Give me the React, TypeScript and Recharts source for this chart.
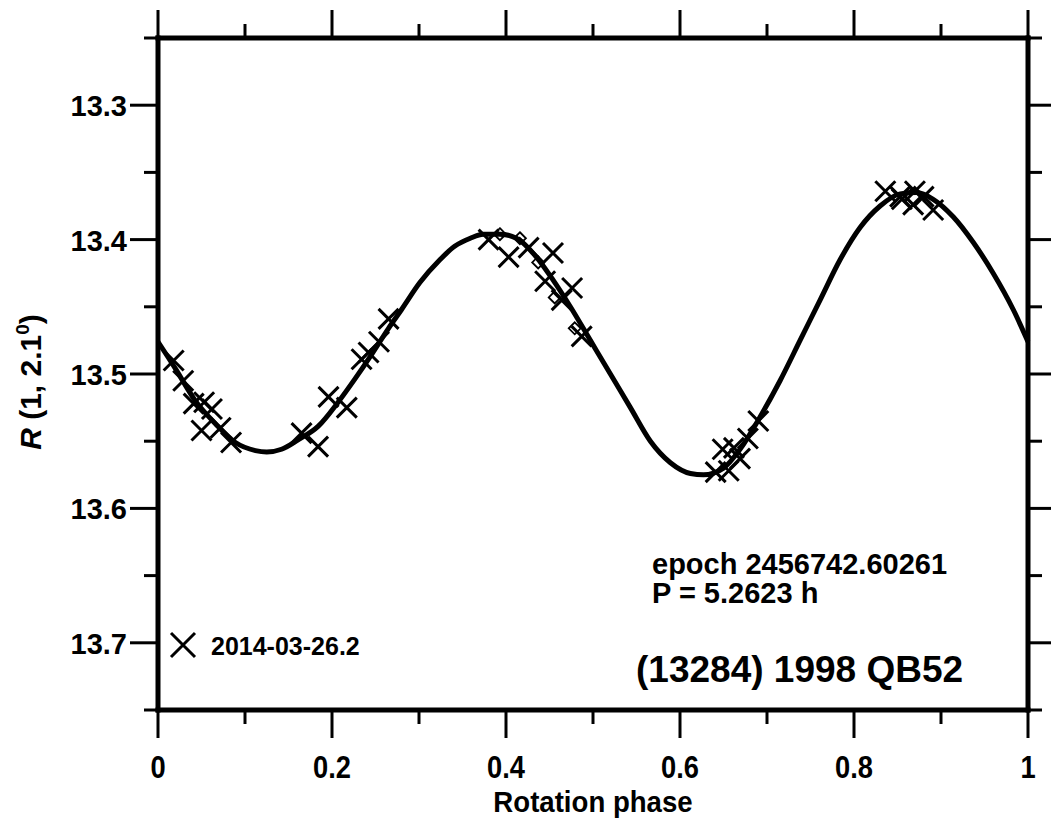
import React from 'react';
import { ComposedChart, Line, Scatter, XAxis, YAxis, Customized } from 'recharts';

// Fitted Fourier curve (phase, R magnitude)
const curvePhase = [
  0, 0.02, 0.043, 0.066, 0.089, 0.112, 0.125, 0.142, 0.161, 0.184, 0.207, 0.226, 0.246,
  0.265, 0.28, 0.301, 0.324, 0.341, 0.359, 0.374, 0.393, 0.412, 0.435, 0.454, 0.474,
  0.497, 0.52, 0.543, 0.566, 0.589, 0.612, 0.627, 0.65, 0.669, 0.692, 0.715, 0.738,
  0.761, 0.784, 0.807, 0.83, 0.853, 0.872, 0.891, 0.914, 0.937, 0.96, 0.983, 1,
];
const curveMag = [
  13.476, 13.496, 13.52, 13.537, 13.551, 13.557, 13.558, 13.556, 13.549, 13.539, 13.521,
  13.504, 13.485, 13.466, 13.452, 13.432, 13.415, 13.405, 13.399, 13.396, 13.396, 13.399,
  13.413, 13.43, 13.45, 13.475, 13.5, 13.525, 13.55, 13.566, 13.574, 13.575, 13.57,
  13.556, 13.532, 13.505, 13.475, 13.445, 13.415, 13.391, 13.375, 13.366, 13.365, 13.37,
  13.383, 13.402, 13.425, 13.452, 13.476,
];

// 2014-03-26.2 observations (crosses)
const crossPhase = [
  0.018, 0.029, 0.041, 0.053, 0.062, 0.05, 0.072, 0.084, 0.165, 0.184, 0.196, 0.217,
  0.234, 0.242, 0.254, 0.265, 0.38, 0.403, 0.426, 0.454, 0.445, 0.476, 0.464, 0.487,
  0.641, 0.656, 0.649, 0.669, 0.662, 0.678, 0.69, 0.836, 0.853, 0.87, 0.88, 0.868,
  0.891, 0.855,
];
const crossMag = [
  13.49, 13.505, 13.522, 13.521, 13.526, 13.542, 13.54, 13.551, 13.544, 13.554, 13.517,
  13.525, 13.489, 13.484, 13.476, 13.459, 13.4, 13.413, 13.406, 13.41, 13.431, 13.436,
  13.445, 13.472, 13.573, 13.572, 13.556, 13.563, 13.555, 13.548, 13.535, 13.364, 13.368,
  13.364, 13.368, 13.374, 13.378, 13.37,
];

// second set (open diamonds)
const diamondPhase = [0.393, 0.416, 0.437, 0.456, 0.479];
const diamondMag = [13.396, 13.399, 13.417, 13.443, 13.466];

const phaseTicks = [0, 0.1, 0.2, 0.3, 0.4, 0.5, 0.6, 0.7, 0.8, 0.9, 1];
const phaseLabels = ['0', '0.2', '0.4', '0.6', '0.8', '1'];
const magTicks = [13.25, 13.3, 13.35, 13.4, 13.45, 13.5, 13.55, 13.6, 13.65, 13.7, 13.75];
const magLabels = ['13.3', '13.4', '13.5', '13.6', '13.7'];

const curve = curvePhase.map((p, i) => ({ phase: p, mag: curveMag[i] }));
const crosses = crossPhase.map((p, i) => ({ phase: p, mag: crossMag[i] }));
const diamonds = diamondPhase.map((p, i) => ({ phase: p, mag: diamondMag[i] }));

const MAJOR = 28;
const MINOR = 14;
const SANS = "'Liberation Sans', Arial, Helvetica, sans-serif";

const axisLine = { stroke: '#000', strokeWidth: 5, strokeLinecap: 'square' as const };

// condensed bold text (the original uses a narrow face)
const Narrow = ({ x, y, size, scale, children }: any) => (
  <text
    transform={`translate(${x},${y}) scale(${scale},1)`}
    textAnchor="middle"
    fontFamily={SANS}
    fontWeight="bold"
    fontSize={size}
    fill="#000"
  >
    {children}
  </text>
);

const BottomTick = (props: any) => {
  const { x, y, payload } = props;
  const label = String(payload.value);
  const major = phaseLabels.includes(label);
  return (
    <g>
      <line x1={x} x2={x} y1={y} y2={y + (major ? MAJOR : MINOR)} stroke="#000" strokeWidth={3} />
      {major && (
        <Narrow x={x} y={y + 68} size={31} scale={0.88}>
          {label}
        </Narrow>
      )}
    </g>
  );
};

const TopTick = (props: any) => {
  const { x, y, payload } = props;
  const major = phaseLabels.includes(String(payload.value));
  return <line x1={x} x2={x} y1={y} y2={y - (major ? MAJOR : MINOR)} stroke="#000" strokeWidth={3} />;
};

const LeftTick = (props: any) => {
  const { x, y, payload } = props;
  const label = String(payload.value);
  const major = magLabels.includes(label);
  return (
    <g>
      <line x1={x} x2={x - (major ? MAJOR : MINOR)} y1={y} y2={y} stroke="#000" strokeWidth={3} />
      {major && (
        <text x={x - 31} y={y + 11} textAnchor="end" fontFamily={SANS} fontWeight="bold" fontSize={29} fill="#000">
          {label}
        </text>
      )}
    </g>
  );
};

const RightTick = (props: any) => {
  const { x, y, payload } = props;
  const major = magLabels.includes(String(payload.value));
  return <line x1={x} x2={x + (major ? MAJOR : MINOR)} y1={y} y2={y} stroke="#000" strokeWidth={3} />;
};

const XTitle = (props: any) => {
  const { x, y, width, height } = props.viewBox;
  return (
    <Narrow x={x + width / 2} y={y + height - 6} size={30} scale={0.92}>
      Rotation phase
    </Narrow>
  );
};

const Cross = (props: any) => {
  const { cx, cy, s = 10 } = props;
  return (
    <path
      d={`M${cx - s},${cy - s}L${cx + s},${cy + s}M${cx - s},${cy + s}L${cx + s},${cy - s}`}
      stroke="#000"
      strokeWidth={3}
      fill="none"
    />
  );
};

const Diamond = (props: any) => {
  const { cx, cy } = props;
  const s = 6;
  return (
    <path
      d={`M${cx},${cy - s}L${cx + s},${cy}L${cx},${cy + s}L${cx - s},${cy}Z`}
      stroke="#000"
      strokeWidth={1.8}
      fill="none"
    />
  );
};

const YLabel = () => (
  <text transform="rotate(-90 41 382)" x={41} y={382} textAnchor="middle" fontFamily={SANS} fontSize={30} fill="#000">
    <tspan fontStyle="italic">R</tspan>
    <tspan> (1, 2.1</tspan>
    <tspan dy={-12} fontSize={19}>0</tspan>
    <tspan dy={12}>)</tspan>
  </text>
);

const Notes = () => (
  <g fill="#000" fontFamily={SANS} fontWeight="bold">
    <text x={652} y={574} fontSize={29}>epoch 2456742.60261</text>
    <text x={652} y={603} fontSize={29}>P = 5.2623 h</text>
    <text x={636} y={682} fontSize={37}>(13284) 1998 QB52</text>
    {/* legend */}
    <Cross cx={183} cy={645} s={12} />
    <text x={211} y={655} fontSize={25}>2014-03-26.2</text>
    <YLabel />
  </g>
);

export default function App() {
  return (
    <div style={{ position: 'absolute', left: 0, top: 0, background: '#fff' }}>
      <ComposedChart width={1051} height={818} margin={{ top: 0, right: 0, bottom: 0, left: 0 }}>
        <XAxis
          xAxisId="b"
          type="number"
          dataKey="phase"
          domain={[0, 1]}
          ticks={phaseTicks}
          interval={0}
          orientation="bottom"
          height={108}
          axisLine={axisLine}
          tickLine={false}
          tickSize={0}
          tickMargin={0}
          tick={BottomTick}
          label={{ content: XTitle }}
        />
        <XAxis
          xAxisId="t"
          type="number"
          dataKey="phase"
          domain={[0, 1]}
          ticks={phaseTicks}
          interval={0}
          orientation="top"
          height={38}
          axisLine={axisLine}
          tickLine={false}
          tickSize={0}
          tickMargin={0}
          tick={TopTick}
        />
        <YAxis
          yAxisId="l"
          type="number"
          dataKey="mag"
          domain={[13.25, 13.75]}
          reversed
          ticks={magTicks}
          interval={0}
          orientation="left"
          width={158}
          axisLine={axisLine}
          tickLine={false}
          tickSize={0}
          tickMargin={0}
          tick={LeftTick}
        />
        <YAxis
          yAxisId="r"
          type="number"
          dataKey="mag"
          domain={[13.25, 13.75]}
          reversed
          ticks={magTicks}
          interval={0}
          orientation="right"
          width={23}
          axisLine={axisLine}
          tickLine={false}
          tickSize={0}
          tickMargin={0}
          tick={RightTick}
        />
        {/* invisible copy so the top and right frame axes get their ticks */}
        <Line
          xAxisId="t"
          yAxisId="r"
          data={curve}
          dataKey="mag"
          stroke="none"
          dot={false}
          activeDot={false}
          isAnimationActive={false}
          legendType="none"
        />
        <Line
          xAxisId="b"
          yAxisId="l"
          data={curve}
          dataKey="mag"
          type="monotone"
          stroke="#000"
          strokeWidth={5}
          dot={false}
          activeDot={false}
          isAnimationActive={false}
          legendType="none"
        />
        <Scatter
          xAxisId="b"
          yAxisId="l"
          name="2014-03-26.2"
          data={crosses}
          dataKey="mag"
          shape={Cross}
          isAnimationActive={false}
        />
        <Scatter
          xAxisId="b"
          yAxisId="l"
          data={diamonds}
          dataKey="mag"
          shape={Diamond}
          isAnimationActive={false}
          legendType="none"
        />
        <Customized component={Notes} />
      </ComposedChart>
    </div>
  );
}
